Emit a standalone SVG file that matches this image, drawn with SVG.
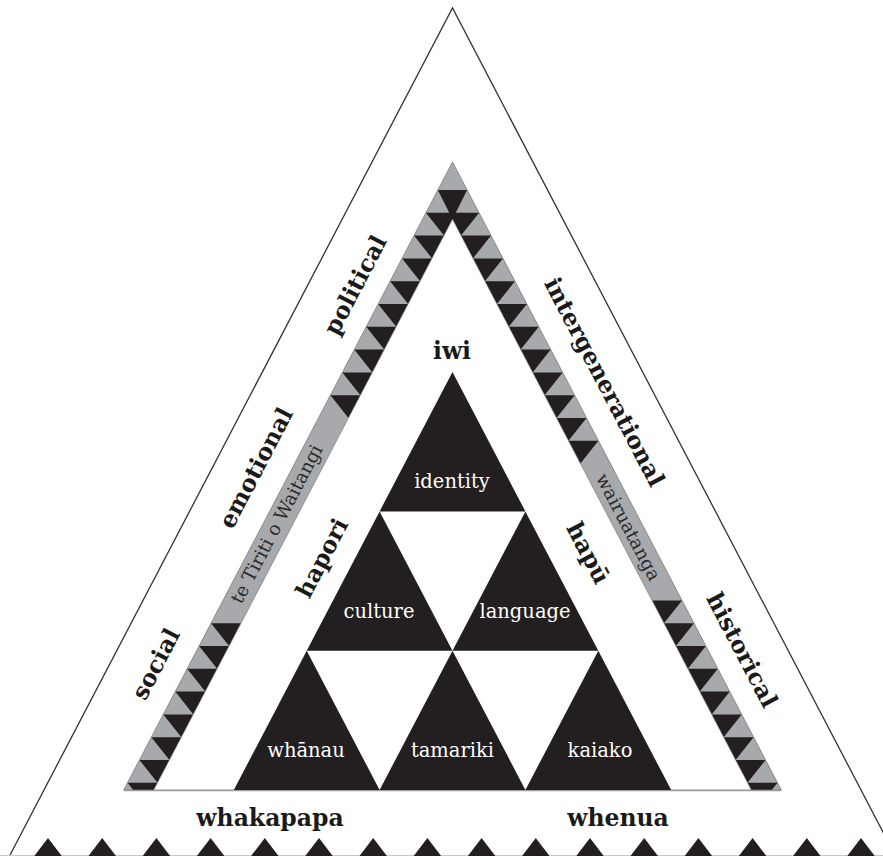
<svg xmlns="http://www.w3.org/2000/svg" width="883" height="856" viewBox="0 0 883 856">
<defs>
<style>
.blk{fill:#231f20}
.gry{fill:#a7a9ac;stroke:#6d6e71;stroke-width:0.7}
.lab{font-family:"DejaVu Serif",serif;font-weight:bold;font-size:23.5px;fill:#1a1a1a;text-anchor:middle;dominant-baseline:central}
.wl{font-family:"DejaVu Serif",serif;font-size:19.5px;fill:#ffffff;text-anchor:middle}
.bt{font-family:"DejaVu Serif",serif;font-size:18.5px;fill:#2b2b2b;text-anchor:middle;dominant-baseline:central}
</style>
<clipPath id="cut"><rect x="0" y="0" width="883" height="790"/></clipPath>
</defs>
<rect width="883" height="856" fill="#ffffff"/>
<g id="outer-triangle">
<path d="M9.5,856 L452.5,8 L895.5,856" fill="none" stroke="#333" stroke-width="1.3"/>
</g>
<g id="band">
<polygon class="gry" points="452.5,162 123.7,790 781.3,790"/>
<g clip-path="url(#cut)">
<polygon class="blk" points="437.842,190 467.158,190 452.5,219.3"/>
<path class="blk" d="M425.906,212.8h30l-11.936,22.8z m-11.936,22.8h30l-11.936,22.8z m-11.936,22.8h30l-11.936,22.8z m-11.936,22.8h30l-11.936,22.8z m-11.936,22.8h30l-11.936,22.8z m-11.936,22.8h30l-11.936,22.8z m-11.936,22.8h30l-11.936,22.8z m-11.936,22.8h30l-11.936,22.8z m-11.936,22.8h30l-11.936,22.8z m-119.36,228h30l-11.936,22.8z m-11.936,22.8h30l-11.936,22.8z m-11.936,22.8h30l-11.936,22.8z m-11.936,22.8h30l-11.936,22.8z m-11.936,22.8h30l-11.936,22.8z m-11.936,22.8h30l-11.936,22.8z m-11.936,22.8h30l-11.936,22.8z m-11.936,22.8h30l-11.936,22.8z"/>
<path class="blk" d="M479.094,212.8h-30l11.936,22.8z m11.936,22.8h-30l11.936,22.8z m11.936,22.8h-30l11.936,22.8z m11.936,22.8h-30l11.936,22.8z m11.936,22.8h-30l11.936,22.8z m11.936,22.8h-30l11.936,22.8z m11.936,22.8h-30l11.936,22.8z m11.936,22.8h-30l11.936,22.8z m11.936,22.8h-30l11.936,22.8z m11.936,22.8h-30l11.936,22.8z m11.936,22.8h-30l11.936,22.8z m83.552,159.6h-30l11.936,22.8z m11.936,22.8h-30l11.936,22.8z m11.936,22.8h-30l11.936,22.8z m11.936,22.8h-30l11.936,22.8z m11.936,22.8h-30l11.936,22.8z m11.936,22.8h-30l11.936,22.8z m11.936,22.8h-30l11.936,22.8z m11.936,22.8h-30l11.936,22.8z m11.936,22.8h-30l11.936,22.8z"/>
</g>
<polygon points="452.5,219.3 153.7,790 751.3,790" fill="#ffffff" stroke="#6d6e71" stroke-width="0.6"/>
<line x1="123.7" y1="790.5" x2="781.3" y2="790.5" stroke="#9d9d9d" stroke-width="1.4"/>
<text class="bt" transform="translate(276.4,524) rotate(-62.37)">te Tiriti o Waitangi</text>
<text class="bt" font-size="20" transform="translate(628.5,527) rotate(62.37)">wairuatanga</text>
</g>
<g id="identity"><polygon class="blk" points="452.5,372.1 379.6,511.4 525.4,511.4"/><text class="wl" x="452" y="488">identity</text></g>
<g id="culture"><polygon class="blk" points="379.6,511.4 306.7,650.7 452.5,650.7"/><text class="wl" x="379" y="618">culture</text></g>
<g id="language"><polygon class="blk" points="525.4,511.4 452.5,650.7 598.3,650.7"/><text class="wl" x="525" y="618">language</text></g>
<g id="whanau"><polygon class="blk" points="306.7,650.7 233.8,790 379.6,790"/><text class="wl" x="306" y="757">whānau</text></g>
<g id="tamariki"><polygon class="blk" points="452.5,650.7 379.6,790 525.4,790"/><text class="wl" x="452.5" y="757">tamariki</text></g>
<g id="kaiako"><polygon class="blk" points="598.3,650.7 525.4,790 671.2,790"/><text class="wl" x="600" y="757">kaiako</text></g>
<g id="labels">
<text class="lab" font-size="24" x="452" y="351">iwi</text>
<text class="lab" transform="translate(322,558) rotate(-62.37)">hapori</text>
<text class="lab" transform="translate(588,553) rotate(62.37)">hapū</text>
<text class="lab" transform="translate(355.3,285) rotate(-62.37)">political</text>
<text class="lab" transform="translate(256,468) rotate(-62.37)">emotional</text>
<text class="lab" transform="translate(155.9,664) rotate(-62.37)">social</text>
<text class="lab" transform="translate(604.5,382) rotate(62.37)">intergenerational</text>
<text class="lab" transform="translate(742,650) rotate(62.37)">historical</text>
<text class="lab" font-size="21.5" x="270" y="818">whakapapa</text>
<text class="lab" font-size="21.5" x="618" y="818">whenua</text>
</g>
<g id="bottom-row">
<line x1="0" y1="855.5" x2="883" y2="855.5" stroke="#c8c8c8" stroke-width="1"/>
<path class="blk" d="M48,838l14.5,19h-29z m54.2,0l14.5,19h-29z m54.2,0l14.5,19h-29z m54.2,0l14.5,19h-29z m54.2,0l14.5,19h-29z m54.2,0l14.5,19h-29z m54.2,0l14.5,19h-29z m54.2,0l14.5,19h-29z m54.2,0l14.5,19h-29z m54.2,0l14.5,19h-29z m54.2,0l14.5,19h-29z m54.2,0l14.5,19h-29z m54.2,0l14.5,19h-29z m54.2,0l14.5,19h-29z m54.2,0l14.5,19h-29z m54.2,0l14.5,19h-29z"/>
</g>
</svg>
